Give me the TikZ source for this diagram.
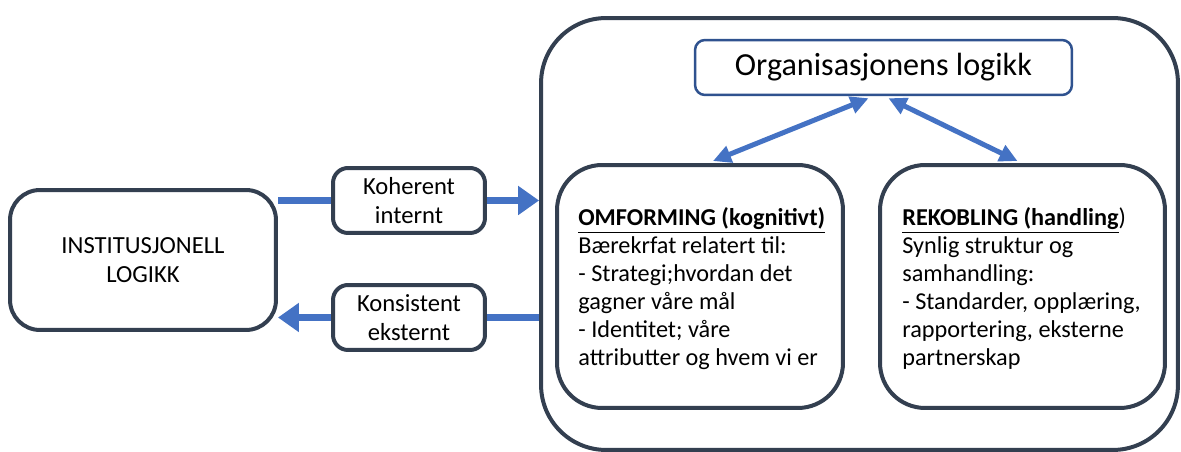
\documentclass[tikz,border=0pt]{standalone}
\usepackage{fontspec}
\setmainfont{Carlito}
\usetikzlibrary{arrows.meta}
\definecolor{frame}{HTML}{333F50}
\definecolor{orgframe}{HTML}{2F528F}
\definecolor{arrowblue}{HTML}{4472C4}
\tikzset{
  box/.style={draw=frame, line width=0.08cm, fill=white, inner sep=0pt, align=center,
    font=\fontsize{14}{16.2}\selectfont},
  bigline/.style={arrowblue, line width=0.14cm},
  bigarrow/.style={bigline, -{Triangle[length=0.42cm,width=0.56cm]}},
  dblarrow/.style={arrowblue, line width=0.1cm, {Triangle[length=0.36cm,width=0.34cm]}-{Triangle[length=0.36cm,width=0.34cm]}},
  bodytext/.style={anchor=north west, align=left, inner sep=0pt, font=\fontsize{13.8}{15.9}\selectfont}
}
\begin{document}
\begin{tikzpicture}[x=0.02cm,y=-0.02cm]
\useasboundingbox (0,0) rectangle (1181,452);
% big container
\node[box, minimum width=12.74cm, minimum height=8.64cm, rounded corners=1.3cm] (big) at (859.5,234) {};
% organisation box
\node[box, draw=orgframe, line width=0.05cm, minimum width=7.54cm, minimum height=1.1cm, rounded corners=0.2cm,
  font=\fontsize{18.3}{21}\selectfont] (org) at (883.5,67.5) {Organisasjonens logikk};
% inner boxes
\node[box, minimum width=5.72cm, minimum height=4.86cm, rounded corners=0.9cm] (omf) at (700,286.5) {};
\node[box, minimum width=5.7cm, minimum height=4.86cm, rounded corners=0.9cm] (rek) at (1022.5,286.5) {};
\node[bodytext] (omftext) at (578,207) {\underline{\textbf{OMFORMING (kognitivt)}}\\
Bærekrfat relatert til:\\
- Strategi;hvordan det\\
gagner våre mål\\
- Identitet; våre\\
attributter og hvem vi er};
\node[bodytext] (rektext) at (902,207) {\underline{\textbf{REKOBLING (handling}})\\
Synlig struktur og\\
samhandling:\\
- Standarder, opplæring,\\
rapportering, eksterne\\
partnerskap};
% left boxes
\node[box, minimum width=5.32cm, minimum height=2.8cm, rounded corners=0.6cm] (inst) at (143,260) {INSTITUSJONELL\\LOGIKK};
\node[box, minimum width=3.04cm, minimum height=1.3cm, rounded corners=0.3cm] (koh) at (409,200.5) {Koherent\\internt};
\node[box, minimum width=3.04cm, minimum height=1.3cm, rounded corners=0.3cm] (kon) at (409,317.5) {Konsistent\\eksternt};
% horizontal arrows
\draw[bigline] (koh.west) -- (koh.west -| inst.east);
\draw[bigarrow] (koh.east) -- (koh.east -| big.west);
\draw[bigline] (kon.east -| big.west) -- (kon.east);
\draw[bigarrow] (kon.west) -- (kon.west -| inst.east);
% double arrows
\coordinate (oa) at ([xshift=-0.3cm,yshift=-0.04cm]org.south);
\coordinate (ob) at ([xshift=0.1cm,yshift=-0.04cm]org.south);
\coordinate (ta) at ([xshift=0.26cm,yshift=0.04cm]omf.north);
\coordinate (tb) at ([xshift=-0.1cm,yshift=0.04cm]rek.north);
\draw[dblarrow] (oa) -- (ta);
\draw[dblarrow] (ob) -- (tb);
\end{tikzpicture}
\end{document}
